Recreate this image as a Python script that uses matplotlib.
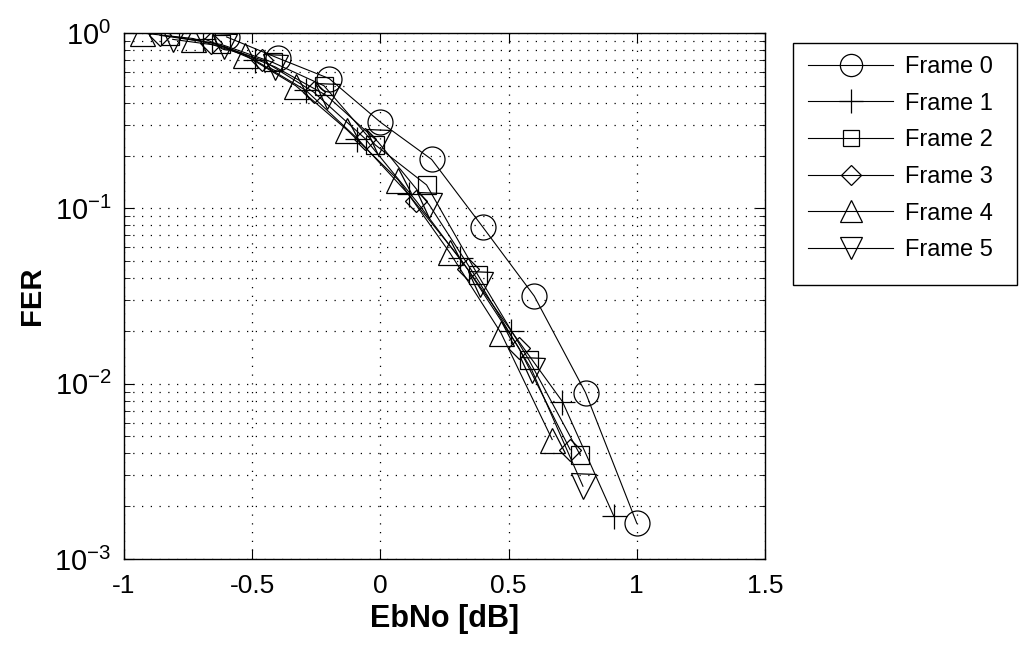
import numpy as np
import matplotlib.pyplot as plt
from matplotlib.patches import Rectangle

# Datos (EbNo en dB, FER)
x0 = [-0.60, -0.40, -0.20, 0.00, 0.20, 0.40, 0.60, 0.80, 1.00]
fer0 = [0.95, 0.72, 0.55, 0.31, 0.19, 0.078, 0.0316, 0.0089, 0.0016]

x1 = [-0.69, -0.49, -0.29, -0.09, 0.11, 0.31, 0.51, 0.71, 0.91]
fer1 = [0.93, 0.70, 0.47, 0.25, 0.12, 0.052, 0.020, 0.0079, 0.00176]

x2 = [-0.82, -0.62, -0.42, -0.22, -0.02, 0.18, 0.38, 0.58, 0.78]
fer2 = [0.96, 0.86, 0.68, 0.50, 0.23, 0.136, 0.0417, 0.0136, 0.0039]

x3 = [-0.86, -0.66, -0.46, -0.26, -0.06, 0.14, 0.34, 0.54, 0.74]
fer3 = [0.97, 0.88, 0.70, 0.46, 0.25, 0.11, 0.045, 0.016, 0.0042]

x4 = [-0.93, -0.73, -0.53, -0.33, -0.13, 0.07, 0.27, 0.47, 0.67]
fer4 = [1.00, 0.93, 0.75, 0.50, 0.28, 0.145, 0.056, 0.0195, 0.0048]

x5 = [-0.81, -0.61, -0.41, -0.21, -0.01, 0.19, 0.39, 0.59, 0.79]
fer5 = [0.92, 0.84, 0.64, 0.44, 0.24, 0.105, 0.037, 0.012, 0.0026]

series = [(x0, fer0, 'o'), (x1, fer1, '+'), (x2, fer2, 's'),
          (x3, fer3, 'D'), (x4, fer4, '^'), (x5, fer5, 'v')]
labels = ['Frame 0', 'Frame 1', 'Frame 2', 'Frame 3', 'Frame 4', 'Frame 5']
sizes = {'o': 18, '+': 18, 's': 13, 'D': 11, '^': 18, 'v': 18}
leg_sizes = {'o': 16, '+': 17, 's': 12, 'D': 10, '^': 16, 'v': 16}

plt.rcParams['font.family'] = ['Liberation Sans', 'DejaVu Sans']
plt.rcParams['mathtext.default'] = 'regular'

W, H = 1025, 648
fig = plt.figure(figsize=(W / 100, H / 100), dpi=100)
ax = fig.add_axes([124 / W, (H - 559) / H, (765 - 124) / W, (559 - 33) / H])

for (xs, ys, m), lab in zip(series, labels):
    ax.semilogy(xs, ys, color='black', linewidth=0.8, marker=m,
                markersize=sizes[m], markerfacecolor='none',
                markeredgecolor='black', markeredgewidth=0.9, label=lab)

ax.set_xlim(-1, 1.5)
ax.set_ylim(1e-3, 1)
ax.set_xticks([-1, -0.5, 0, 0.5, 1, 1.5])
ax.set_xticklabels(['-1', '-0.5', '0', '0.5', '1', '1.5'])

ax.grid(True, which='major', linestyle=(0, (1, 6)), color='black', linewidth=0.9)
ax.grid(True, which='minor', axis='y', linestyle=(0, (1, 6)), color='black', linewidth=0.9)
ax.tick_params(which='both', direction='in', top=True, right=True)
ax.tick_params(axis='x', labelsize=19, pad=11)
ax.tick_params(axis='y', labelsize=21, pad=9)
ax.tick_params(which='major', length=7)
ax.tick_params(which='minor', length=4)
for s in ax.spines.values():
    s.set_linewidth(1.0)

ax.set_xlabel('EbNo [dB]', fontsize=22, fontweight='bold', labelpad=4)
ax.set_ylabel('FER', fontsize=21, fontweight='bold', labelpad=6)

# leyenda sin marco + rectangulo propio (para imitar el recuadro de MATLAB)
handles, labs = ax.get_legend_handles_labels()
leg = fig.legend(handles, labs, loc='upper left',
                 bbox_to_anchor=(808 / W, 1 - 56 / H),
                 fontsize=17, handlelength=3.6, borderpad=0, labelspacing=0.62,
                 handletextpad=0.5, frameon=False, borderaxespad=0)
for h, (xs, ys, m) in zip(leg.get_lines(), series):
    h.set_markersize(leg_sizes[m])
fig.patches.append(Rectangle((793 / W, 1 - 285 / H), (1017 - 793) / W, (285 - 43) / H,
                             transform=fig.transFigure, fill=False,
                             edgecolor='black', linewidth=1.0))

fig.savefig('out.png', dpi=100)
